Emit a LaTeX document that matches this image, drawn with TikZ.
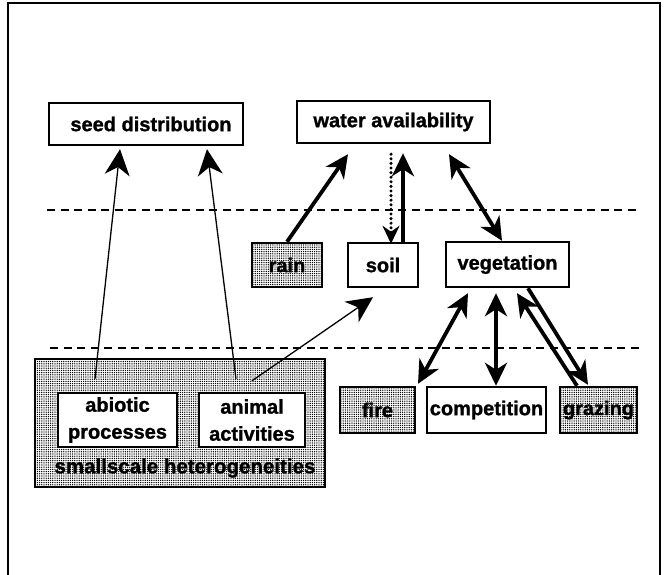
\documentclass[tikz,border=0pt]{standalone}
\usepackage{fontspec}
\setmainfont{Liberation Sans Bold}[FakeBold=1.2]
\usetikzlibrary{arrows.meta,calc,patterns.meta}
\tikzset{
  lbl/.style={font=\fontsize{20}{27}\selectfont, align=center, inner sep=0pt},
  box/.style={lbl, draw, line width=2.4pt, fill=white},
  shbox/.style={box, postaction={pattern={Dots[distance=2.2pt, radius=0.72pt]}, pattern color=black}},
  thickarr/.style={line width=3.8pt, -{Stealth[length=23pt, width=22pt, inset=7pt]}},
  thickboth/.style={line width=3.8pt, {Stealth[length=23pt, width=22pt, inset=7pt]}-{Stealth[length=23pt, width=22pt, inset=7pt]}},
  thinarr/.style={line width=1.3pt, -{Stealth[length=26pt, width=25pt, inset=8pt]}},
  dotarr/.style={line width=3.4pt, dash pattern=on 0pt off 4.6pt, line cap=round, -{Stealth[length=18pt, width=17pt, inset=6pt, line cap=butt, sep=0pt]}},
  sep/.style={line width=1.4pt, dash pattern=on 8pt off 5.5pt},
  frame/.style={line width=1.8pt}
}
\begin{document}
\begin{tikzpicture}[x=1pt,y=-1pt]
\useasboundingbox (0,0) rectangle (665,575);
% frame
\draw[frame] (8,575) -- (8,3) -- (660,3) -- (660,575);
% separators
\draw[sep] (47,210) -- (640,210);
\draw[sep] (50,348) -- (640,348);
% big shaded region
\node[shbox, minimum width=290pt, minimum height=128pt] (big) at (180,423) {};
\node[lbl, font=\fontsize{20.5}{24}\selectfont] (het) at (185,468) {smallscale heterogeneities};
% boxes
\node[box, minimum width=194pt, minimum height=42pt] (seed) at (146,124) {\hspace*{10pt}seed distribution};
\node[box, minimum width=193pt, minimum height=42pt] (water) at (393.5,122) {water availability};
\node[shbox, minimum width=70pt, minimum height=44pt] (rain) at (287,265) {rain};
\node[box, minimum width=70pt, minimum height=44pt] (soil) at (383,265) {soil};
\node[box, minimum width=123pt, minimum height=45pt] (veg) at (507.5,264.5) {vegetation};
\node[shbox, minimum width=75pt, minimum height=46pt] (fire) at (377.5,410) {fire};
\node[box, minimum width=119pt, minimum height=46pt] (comp) at (486.5,410) {competition};
\node[shbox, minimum width=77pt, minimum height=46pt] (graz) at (598.5,410) {grazing};
\node[box, minimum width=119pt, minimum height=54pt] (abio) at (117.5,420) {abiotic\\processes};
\node[box, minimum width=106pt, minimum height=54pt] (anim) at (252,420) {animal\\activities};
% arrows
\draw[thinarr] ($(abio.north)+(-22.5,-13)$) -- ($(seed.south)+(-26,3)$);
\draw[thinarr] ($(anim.north)+(-16,-13)$) -- ($(seed.south)+(61,3)$);
\draw[thinarr] ($(anim.north)+(0,-11)$) -- ($(soil.south)+(-10,9)$);
\draw[thickarr] (rain.north) -- ($(water.south)+(-45.5,10)$);
\draw[dotarr] ($(water.south)+(-2.5,10)$) -- ($(soil.north)+(8,2)$);
\draw[thickarr] ($(soil.north)+(20,0)$) -- ($(water.south)+(9.5,9)$);
\draw[thickboth] ($(water.south)+(55.5,10)$) -- ($(veg.north)+(-5.5,0)$);
\draw[thickboth] ($(veg.south)+(-39.5,5)$) -- ($(fire.north)+(40.5,-2)$);
\draw[thickboth] ($(veg.south)+(-11.5,5)$) -- ($(comp.north)+(9.5,0)$);
\draw[thickarr] ($(graz.north)+(-21.5,0)$) -- ($(veg.south)+(9.5,5)$);
\draw[thickarr] ($(veg.south)+(20.5,0)$) -- ($(graz.north)+(-10.5,-1)$);
\end{tikzpicture}
\end{document}
